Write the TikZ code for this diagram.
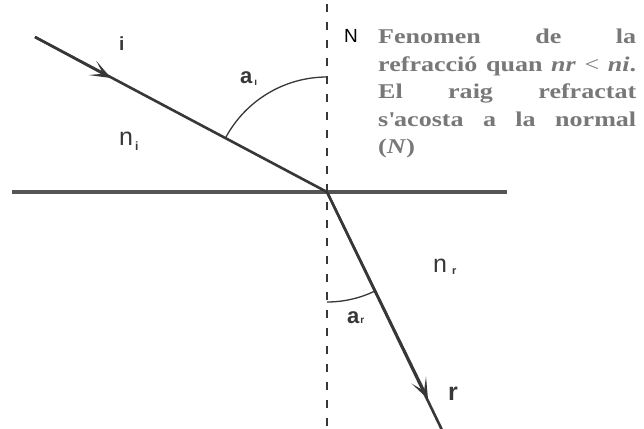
\documentclass[tikz,border=0pt]{standalone}
\usepackage{fontspec}
\setmainfont{Liberation Serif}
\newfontfamily\descfont[FakeStretch=1.24]{Liberation Serif}
\newfontfamily\lblfont{Liberation Sans}
\usetikzlibrary{arrows.meta}
\definecolor{ink}{RGB}{55,55,55}
\definecolor{txtgray}{RGB}{120,120,120}
\begin{document}
\begin{tikzpicture}[x=1pt,y=1pt,
  ray/.style={draw=ink,line width=2.6pt},
  arrowseg/.style={draw=ink,line width=2.4pt,-{Stealth[length=21pt,width=16pt,inset=12pt]}},
  surface/.style={draw=ink!85,line width=3.8pt},
  normalline/.style={draw=ink,line width=1.8pt,dash pattern=on 8pt off 10pt},
  anglearc/.style={draw=ink,line width=1.3pt},
  lbl/.style={text=ink,inner sep=0pt,anchor=base west},
  desc/.style={font=\descfont\bfseries\fontsize{21}{27.5}\selectfont,text=txtgray,text width=258pt,align=justify,inner sep=0pt,anchor=north west}]
\useasboundingbox (0,0) rectangle (644,-428);
\fill[white] (0,0) rectangle (644,-428);
% key points
\coordinate (O) at (327,-192);
\coordinate (iStart) at (35,-37);
\coordinate (iTip) at (111,-78);
\coordinate (rEnd) at (442,-430);
\coordinate (rTip) at (428,-399);
\coordinate (sL) at (12,-192);
\coordinate (sR) at (507,-192);
\coordinate (nTop) at (327,-4);
\coordinate (nBot) at (327,-430);
% surface and normal
\draw[surface] (sL) -- (sR);
\draw[normalline] (nTop) -- (nBot);
% rays
\draw[ray] (iStart) -- (O);
\draw[arrowseg] (iStart) -- (iTip);
\draw[ray] (O) -- (rEnd);
\draw[arrowseg] (O) -- (rTip);
% angle arcs
\draw[anglearc] (O) ++(90:115pt) arc[start angle=90,end angle=152.04,radius=115pt];
\draw[anglearc] (O) ++(270:110pt) arc[start angle=270,end angle=295.8,radius=110pt];
% labels
\node[lbl,font=\lblfont\bfseries\fontsize{19}{19}\selectfont] (li) at (119,-50) {i};
\node[lbl,font=\lblfont\bfseries\fontsize{22}{22}\selectfont] (lai) at (240,-83) {a\hspace{2pt}\raisebox{-2pt}{\fontsize{10}{10}\selectfont ı}};
\node[lbl,font=\lblfont\fontsize{25}{25}\selectfont] (lni) at (119,-145) {n\hspace{2pt}\raisebox{-5pt}{\fontsize{12}{12}\selectfont\bfseries i}};
\node[lbl,text=black,font=\lblfont\fontsize{19}{19}\selectfont] (lN) at (344,-43) {N};
\node[lbl,font=\lblfont\fontsize{25}{25}\selectfont] (lnr) at (433,-272) {n\hspace{5pt}\raisebox{-2pt}{\fontsize{11}{11}\selectfont\bfseries r}};
\node[lbl,font=\lblfont\bfseries\fontsize{22}{22}\selectfont] (lar) at (347,-323) {a\hspace{1pt}\raisebox{0pt}{\fontsize{10}{10}\selectfont\bfseries r}};
\node[lbl,font=\lblfont\bfseries\fontsize{25}{25}\selectfont] (lr) at (448,-400) {r};
% description
\node[desc] (txt) at (378,-29) {Fenomen de la\linebreak refracció quan \textit{nr} \textmd{<} \textit{ni}.\linebreak El raig refractat\linebreak s\textquotesingle acosta a la normal\linebreak (\textit{N})};
\end{tikzpicture}
\end{document}
